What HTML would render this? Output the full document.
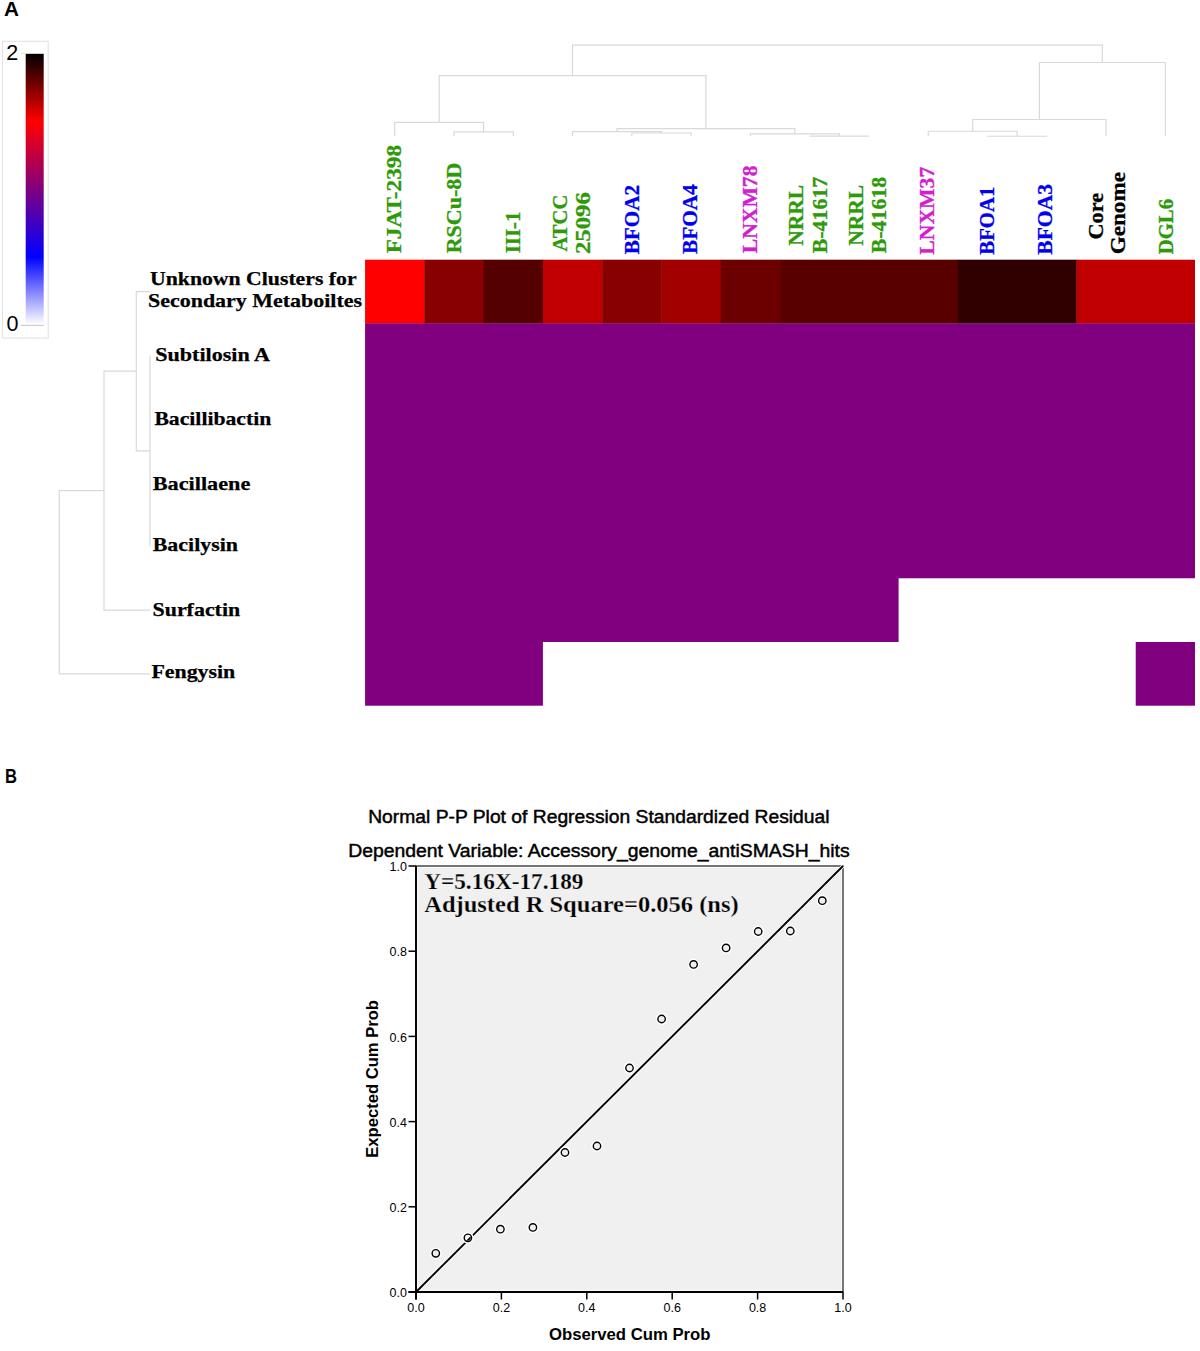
<!DOCTYPE html><html><head><meta charset="utf-8"><style>html,body{margin:0;padding:0;background:#fff;width:1200px;height:1351px;overflow:hidden}svg{display:block}</style></head><body>
<svg width="1200" height="1351" viewBox="0 0 1200 1351">
<text x="4" y="15.8" font-family="Liberation Sans" font-weight="bold" font-size="21" textLength="15" lengthAdjust="spacingAndGlyphs">A</text>
<text x="5" y="782.8" font-family="Liberation Sans" font-weight="bold" font-size="21" textLength="12" lengthAdjust="spacingAndGlyphs">B</text>
<defs><linearGradient id="cb" x1="0" y1="0" x2="0" y2="1"><stop offset="0" stop-color="#000"/><stop offset="0.25" stop-color="#f00"/><stop offset="0.5" stop-color="#800080"/><stop offset="0.75" stop-color="#00f"/><stop offset="1" stop-color="#fff"/></linearGradient></defs>
<rect x="2.5" y="41.3" width="45.7" height="296.7" fill="#fff" stroke="#e2e2e2" stroke-width="1.1"/>
<rect x="25.7" y="53.8" width="18" height="271" fill="url(#cb)"/>
<line x1="21" y1="325.4" x2="44" y2="325.4" stroke="#c8c8c8" stroke-width="1"/>
<line x1="21" y1="53.6" x2="25.7" y2="53.6" stroke="#e0e0e0" stroke-width="1"/>
<text x="6.3" y="59.7" font-family="Liberation Sans" font-size="21.5">2</text>
<text x="6.5" y="331" font-family="Liberation Sans" font-size="21.5">0</text>
<rect x="365.07" y="259.70" width="59.68" height="64.01" fill="#ff0000"/>
<rect x="424.35" y="259.70" width="59.68" height="64.01" fill="#880000"/>
<rect x="483.63" y="259.70" width="59.68" height="64.01" fill="#540000"/>
<rect x="542.91" y="259.70" width="59.68" height="64.01" fill="#c00000"/>
<rect x="602.19" y="259.70" width="59.68" height="64.01" fill="#880000"/>
<rect x="661.47" y="259.70" width="59.68" height="64.01" fill="#a20000"/>
<rect x="720.75" y="259.70" width="59.68" height="64.01" fill="#6c0000"/>
<rect x="780.04" y="259.70" width="178.24" height="64.01" fill="#580000"/>
<rect x="957.88" y="259.70" width="118.96" height="64.01" fill="#300000"/>
<rect x="1076.44" y="259.70" width="118.56" height="64.01" fill="#c00000"/>
<rect x="365.07" y="323.41" width="829.93" height="254.86" fill="#800080"/>
<rect x="365.07" y="577.97" width="533.53" height="64.01" fill="#800080"/>
<rect x="365.07" y="641.69" width="177.84" height="64.01" fill="#800080"/>
<rect x="1135.72" y="641.99" width="59.28" height="63.71" fill="#800080"/>
<path d="M453.99 136.20V131.90H513.27V136.20" stroke="#d9d9d9" stroke-width="1.2" fill="none"/>
<path d="M394.71 136.20V122.40H483.63V131.90" stroke="#d9d9d9" stroke-width="1.2" fill="none"/>
<path d="M631.83 136.20V133.00H691.11V136.20" stroke="#d9d9d9" stroke-width="1.2" fill="none"/>
<path d="M572.55 136.20V131.70H661.47V133.00" stroke="#d9d9d9" stroke-width="1.2" fill="none"/>
<path d="M809.68 136.20V136.20H868.96V136.20" stroke="#d9d9d9" stroke-width="1.2" fill="none"/>
<path d="M750.39 136.20V133.80H839.32V136.20" stroke="#d9d9d9" stroke-width="1.2" fill="none"/>
<path d="M617.01 131.70V128.70H794.86V133.80" stroke="#d9d9d9" stroke-width="1.2" fill="none"/>
<path d="M439.17 122.40V75.70H705.93V128.70" stroke="#d9d9d9" stroke-width="1.2" fill="none"/>
<path d="M987.52 136.20V136.25H1046.80V136.20" stroke="#d9d9d9" stroke-width="1.2" fill="none"/>
<path d="M928.24 136.20V131.25H1017.16V136.25" stroke="#d9d9d9" stroke-width="1.2" fill="none"/>
<path d="M972.70 131.25V119.50H1106.08V136.20" stroke="#d9d9d9" stroke-width="1.2" fill="none"/>
<path d="M1039.39 119.50V62.50H1165.36V136.20" stroke="#d9d9d9" stroke-width="1.2" fill="none"/>
<path d="M572.55 75.70V45.20H1102.37V62.50" stroke="#d9d9d9" stroke-width="1.2" fill="none"/>
<path d="M150.00 355.27H150.00V546.41H150.00" stroke="#d9d9d9" stroke-width="1.2" fill="none"/>
<path d="M150.00 291.56H136.30V450.84H150.00" stroke="#d9d9d9" stroke-width="1.2" fill="none"/>
<path d="M136.30 371.20H104.00V610.13H150.00" stroke="#d9d9d9" stroke-width="1.2" fill="none"/>
<path d="M104.00 490.66H59.25V673.84H150.00" stroke="#d9d9d9" stroke-width="1.2" fill="none"/>
<text x="150" y="285.3" font-family="Liberation Serif" font-weight="bold" font-size="19.5" stroke="#000" stroke-width="0.25" textLength="206.6" lengthAdjust="spacingAndGlyphs">Unknown Clusters for</text>
<text x="148" y="307" font-family="Liberation Serif" font-weight="bold" font-size="19.5" stroke="#000" stroke-width="0.25" textLength="214" lengthAdjust="spacingAndGlyphs">Secondary Metaboiltes</text>
<text x="155.3" y="360.6" font-family="Liberation Serif" font-weight="bold" font-size="19.5" stroke="#000" stroke-width="0.25" textLength="114.7" lengthAdjust="spacingAndGlyphs">Subtilosin A</text>
<text x="154.4" y="424.8" font-family="Liberation Serif" font-weight="bold" font-size="19.5" stroke="#000" stroke-width="0.25" textLength="116.9" lengthAdjust="spacingAndGlyphs">Bacillibactin</text>
<text x="152.75" y="489.5" font-family="Liberation Serif" font-weight="bold" font-size="19.5" stroke="#000" stroke-width="0.25" textLength="97.6" lengthAdjust="spacingAndGlyphs">Bacillaene</text>
<text x="152.75" y="551.4" font-family="Liberation Serif" font-weight="bold" font-size="19.5" stroke="#000" stroke-width="0.25" textLength="85.3" lengthAdjust="spacingAndGlyphs">Bacilysin</text>
<text x="152.5" y="616" font-family="Liberation Serif" font-weight="bold" font-size="19.5" stroke="#000" stroke-width="0.25" textLength="87.7" lengthAdjust="spacingAndGlyphs">Surfactin</text>
<text x="151.4" y="678.2" font-family="Liberation Serif" font-weight="bold" font-size="19.5" stroke="#000" stroke-width="0.25" textLength="83.9" lengthAdjust="spacingAndGlyphs">Fengysin</text>
<text transform="translate(400.5,253.3) rotate(-90)" x="0" y="0" font-family="Liberation Serif" font-weight="bold" font-size="21" fill="#2e9a0a" stroke="#2e9a0a" stroke-width="0.3" textLength="108.3" lengthAdjust="spacingAndGlyphs">FJAT-2398</text>
<text transform="translate(460.7,253.3) rotate(-90)" x="0" y="0" font-family="Liberation Serif" font-weight="bold" font-size="21" fill="#2e9a0a" stroke="#2e9a0a" stroke-width="0.3" textLength="90.6" lengthAdjust="spacingAndGlyphs">RSCu-8D</text>
<text transform="translate(520.1,253.3) rotate(-90)" x="0" y="0" font-family="Liberation Serif" font-weight="bold" font-size="21" fill="#2e9a0a" stroke="#2e9a0a" stroke-width="0.3" textLength="41.8" lengthAdjust="spacingAndGlyphs">III-1</text>
<text transform="translate(566.7,251.6) rotate(-90)" x="0" y="0" font-family="Liberation Serif" font-weight="bold" font-size="21" fill="#2e9a0a" stroke="#2e9a0a" stroke-width="0.3" textLength="57" lengthAdjust="spacingAndGlyphs">ATCC</text>
<text transform="translate(589.7,254) rotate(-90)" x="0" y="0" font-family="Liberation Serif" font-weight="bold" font-size="21" fill="#2e9a0a" stroke="#2e9a0a" stroke-width="0.3" textLength="61.8" lengthAdjust="spacingAndGlyphs">25096</text>
<text transform="translate(639.2,254.3) rotate(-90)" x="0" y="0" font-family="Liberation Serif" font-weight="bold" font-size="21" fill="#0000f0" stroke="#0000f0" stroke-width="0.3" textLength="69.3" lengthAdjust="spacingAndGlyphs">BFOA2</text>
<text transform="translate(697,254) rotate(-90)" x="0" y="0" font-family="Liberation Serif" font-weight="bold" font-size="21" fill="#0000f0" stroke="#0000f0" stroke-width="0.3" textLength="69.7" lengthAdjust="spacingAndGlyphs">BFOA4</text>
<text transform="translate(756.75,253.25) rotate(-90)" x="0" y="0" font-family="Liberation Serif" font-weight="bold" font-size="21" fill="#d020d0" stroke="#d020d0" stroke-width="0.3" textLength="87.75" lengthAdjust="spacingAndGlyphs">LNXM78</text>
<text transform="translate(803.25,245.75) rotate(-90)" x="0" y="0" font-family="Liberation Serif" font-weight="bold" font-size="21" fill="#2e9a0a" stroke="#2e9a0a" stroke-width="0.3" textLength="60.75" lengthAdjust="spacingAndGlyphs">NRRL</text>
<text transform="translate(826.5,253.25) rotate(-90)" x="0" y="0" font-family="Liberation Serif" font-weight="bold" font-size="21" fill="#2e9a0a" stroke="#2e9a0a" stroke-width="0.3" textLength="76.5" lengthAdjust="spacingAndGlyphs">B-41617</text>
<text transform="translate(862.5,245.75) rotate(-90)" x="0" y="0" font-family="Liberation Serif" font-weight="bold" font-size="21" fill="#2e9a0a" stroke="#2e9a0a" stroke-width="0.3" textLength="60.75" lengthAdjust="spacingAndGlyphs">NRRL</text>
<text transform="translate(885.7,253.25) rotate(-90)" x="0" y="0" font-family="Liberation Serif" font-weight="bold" font-size="21" fill="#2e9a0a" stroke="#2e9a0a" stroke-width="0.3" textLength="76.5" lengthAdjust="spacingAndGlyphs">B-41618</text>
<text transform="translate(934,254.7) rotate(-90)" x="0" y="0" font-family="Liberation Serif" font-weight="bold" font-size="21" fill="#d020d0" stroke="#d020d0" stroke-width="0.3" textLength="88" lengthAdjust="spacingAndGlyphs">LNXM37</text>
<text transform="translate(994,254.7) rotate(-90)" x="0" y="0" font-family="Liberation Serif" font-weight="bold" font-size="21" fill="#0000f0" stroke="#0000f0" stroke-width="0.3" textLength="68" lengthAdjust="spacingAndGlyphs">BFOA1</text>
<text transform="translate(1051.6,254.7) rotate(-90)" x="0" y="0" font-family="Liberation Serif" font-weight="bold" font-size="21" fill="#0000f0" stroke="#0000f0" stroke-width="0.3" textLength="70.7" lengthAdjust="spacingAndGlyphs">BFOA3</text>
<text transform="translate(1102.8,239.6) rotate(-90)" x="0" y="0" font-family="Liberation Serif" font-weight="bold" font-size="21" fill="#000000" stroke="#000000" stroke-width="0.3" textLength="46.7" lengthAdjust="spacingAndGlyphs">Core</text>
<text transform="translate(1125,254.3) rotate(-90)" x="0" y="0" font-family="Liberation Serif" font-weight="bold" font-size="21" fill="#000000" stroke="#000000" stroke-width="0.3" textLength="82.3" lengthAdjust="spacingAndGlyphs">Genome</text>
<text transform="translate(1172.9,254.3) rotate(-90)" x="0" y="0" font-family="Liberation Serif" font-weight="bold" font-size="21" fill="#2e9a0a" stroke="#2e9a0a" stroke-width="0.3" textLength="55.3" lengthAdjust="spacingAndGlyphs">DGL6</text>
<text x="368.2" y="822.75" font-family="Liberation Sans" font-size="18" stroke="#000" stroke-width="0.45" textLength="461.3" lengthAdjust="spacingAndGlyphs">Normal P-P Plot of Regression Standardized Residual</text>
<text x="348.2" y="856.8" font-family="Liberation Sans" font-size="18" stroke="#000" stroke-width="0.45" textLength="501.4" lengthAdjust="spacingAndGlyphs">Dependent Variable: Accessory_genome_antiSMASH_hits</text>
<rect x="416.0" y="866.0" width="427.0" height="426.0" fill="#f0f0f0"/>
<rect x="417.0" y="867.0" width="425.0" height="424.0" fill="none" stroke="#ffffff" stroke-width="1.5"/>
<rect x="416.0" y="866.0" width="427.0" height="426.0" fill="none" stroke="#3c3c3c" stroke-width="1.4"/>
<line x1="416.0" y1="1292.0" x2="843.0" y2="866.0" stroke="#fff" stroke-width="3.6"/>
<line x1="416.0" y1="1292.0" x2="843.0" y2="866.0" stroke="#000" stroke-width="1.9"/>
<line x1="416.0" y1="866.0" x2="416.0" y2="1299.5" stroke="#000" stroke-width="1.9"/>
<line x1="408.5" y1="1292.0" x2="843.0" y2="1292.0" stroke="#000" stroke-width="1.9"/>
<line x1="408.5" y1="1292.00" x2="416.0" y2="1292.00" stroke="#000" stroke-width="1.5"/>
<line x1="416.00" y1="1292.0" x2="416.00" y2="1299.5" stroke="#000" stroke-width="1.5"/>
<text x="407" y="1297.20" font-family="Liberation Sans" font-size="12.5" text-anchor="end">0.0</text>
<text x="416.00" y="1312" font-family="Liberation Sans" font-size="12.5" text-anchor="middle">0.0</text>
<line x1="408.5" y1="1206.80" x2="416.0" y2="1206.80" stroke="#000" stroke-width="1.5"/>
<line x1="501.40" y1="1292.0" x2="501.40" y2="1299.5" stroke="#000" stroke-width="1.5"/>
<text x="407" y="1212.00" font-family="Liberation Sans" font-size="12.5" text-anchor="end">0.2</text>
<text x="501.40" y="1312" font-family="Liberation Sans" font-size="12.5" text-anchor="middle">0.2</text>
<line x1="408.5" y1="1121.60" x2="416.0" y2="1121.60" stroke="#000" stroke-width="1.5"/>
<line x1="586.80" y1="1292.0" x2="586.80" y2="1299.5" stroke="#000" stroke-width="1.5"/>
<text x="407" y="1126.80" font-family="Liberation Sans" font-size="12.5" text-anchor="end">0.4</text>
<text x="586.80" y="1312" font-family="Liberation Sans" font-size="12.5" text-anchor="middle">0.4</text>
<line x1="408.5" y1="1036.40" x2="416.0" y2="1036.40" stroke="#000" stroke-width="1.5"/>
<line x1="672.20" y1="1292.0" x2="672.20" y2="1299.5" stroke="#000" stroke-width="1.5"/>
<text x="407" y="1041.60" font-family="Liberation Sans" font-size="12.5" text-anchor="end">0.6</text>
<text x="672.20" y="1312" font-family="Liberation Sans" font-size="12.5" text-anchor="middle">0.6</text>
<line x1="408.5" y1="951.20" x2="416.0" y2="951.20" stroke="#000" stroke-width="1.5"/>
<line x1="757.60" y1="1292.0" x2="757.60" y2="1299.5" stroke="#000" stroke-width="1.5"/>
<text x="407" y="956.40" font-family="Liberation Sans" font-size="12.5" text-anchor="end">0.8</text>
<text x="757.60" y="1312" font-family="Liberation Sans" font-size="12.5" text-anchor="middle">0.8</text>
<line x1="408.5" y1="866.00" x2="416.0" y2="866.00" stroke="#000" stroke-width="1.5"/>
<line x1="843.00" y1="1292.0" x2="843.00" y2="1299.5" stroke="#000" stroke-width="1.5"/>
<text x="407" y="871.20" font-family="Liberation Sans" font-size="12.5" text-anchor="end">1.0</text>
<text x="843.00" y="1312" font-family="Liberation Sans" font-size="12.5" text-anchor="middle">1.0</text>
<circle cx="435.8" cy="1253.3" r="4.4" fill="none" stroke="#fff" stroke-width="3"/>
<circle cx="435.8" cy="1253.3" r="3.7" fill="none" stroke="#000" stroke-width="1.4"/>
<circle cx="467.9" cy="1237.8" r="4.4" fill="none" stroke="#fff" stroke-width="3"/>
<circle cx="467.9" cy="1237.8" r="3.7" fill="none" stroke="#000" stroke-width="1.4"/>
<circle cx="500.4" cy="1229.2" r="4.4" fill="none" stroke="#fff" stroke-width="3"/>
<circle cx="500.4" cy="1229.2" r="3.7" fill="none" stroke="#000" stroke-width="1.4"/>
<circle cx="532.9" cy="1227.4" r="4.4" fill="none" stroke="#fff" stroke-width="3"/>
<circle cx="532.9" cy="1227.4" r="3.7" fill="none" stroke="#000" stroke-width="1.4"/>
<circle cx="565" cy="1152.5" r="4.4" fill="none" stroke="#fff" stroke-width="3"/>
<circle cx="565" cy="1152.5" r="3.7" fill="none" stroke="#000" stroke-width="1.4"/>
<circle cx="597" cy="1146" r="4.4" fill="none" stroke="#fff" stroke-width="3"/>
<circle cx="597" cy="1146" r="3.7" fill="none" stroke="#000" stroke-width="1.4"/>
<circle cx="629.5" cy="1068" r="4.4" fill="none" stroke="#fff" stroke-width="3"/>
<circle cx="629.5" cy="1068" r="3.7" fill="none" stroke="#000" stroke-width="1.4"/>
<circle cx="661.6" cy="1019" r="4.4" fill="none" stroke="#fff" stroke-width="3"/>
<circle cx="661.6" cy="1019" r="3.7" fill="none" stroke="#000" stroke-width="1.4"/>
<circle cx="693.6" cy="964.4" r="4.4" fill="none" stroke="#fff" stroke-width="3"/>
<circle cx="693.6" cy="964.4" r="3.7" fill="none" stroke="#000" stroke-width="1.4"/>
<circle cx="726.1" cy="947.9" r="4.4" fill="none" stroke="#fff" stroke-width="3"/>
<circle cx="726.1" cy="947.9" r="3.7" fill="none" stroke="#000" stroke-width="1.4"/>
<circle cx="758.2" cy="931.5" r="4.4" fill="none" stroke="#fff" stroke-width="3"/>
<circle cx="758.2" cy="931.5" r="3.7" fill="none" stroke="#000" stroke-width="1.4"/>
<circle cx="790.3" cy="931" r="4.4" fill="none" stroke="#fff" stroke-width="3"/>
<circle cx="790.3" cy="931" r="3.7" fill="none" stroke="#000" stroke-width="1.4"/>
<circle cx="822.3" cy="900.7" r="4.4" fill="none" stroke="#fff" stroke-width="3"/>
<circle cx="822.3" cy="900.7" r="3.7" fill="none" stroke="#000" stroke-width="1.4"/>
<text x="424.2" y="889.2" font-family="Liberation Serif" font-weight="bold" font-size="23.5" stroke="#f0f0f0" stroke-width="0.25" textLength="159.2" lengthAdjust="spacingAndGlyphs">Y=5.16X-17.189</text>
<text x="424.2" y="912.4" font-family="Liberation Serif" font-weight="bold" font-size="23.5" stroke="#f0f0f0" stroke-width="0.25" textLength="314.5" lengthAdjust="spacingAndGlyphs">Adjusted R Square=0.056 (ns)</text>
<text x="549" y="1340.2" font-family="Liberation Sans" font-weight="bold" font-size="16" textLength="161.5" lengthAdjust="spacingAndGlyphs">Observed Cum Prob</text>
<text transform="translate(377.7,1157.7) rotate(-90)" font-family="Liberation Sans" font-weight="bold" font-size="16" textLength="157.7" lengthAdjust="spacingAndGlyphs">Expected Cum Prob</text>
</svg></body></html>
